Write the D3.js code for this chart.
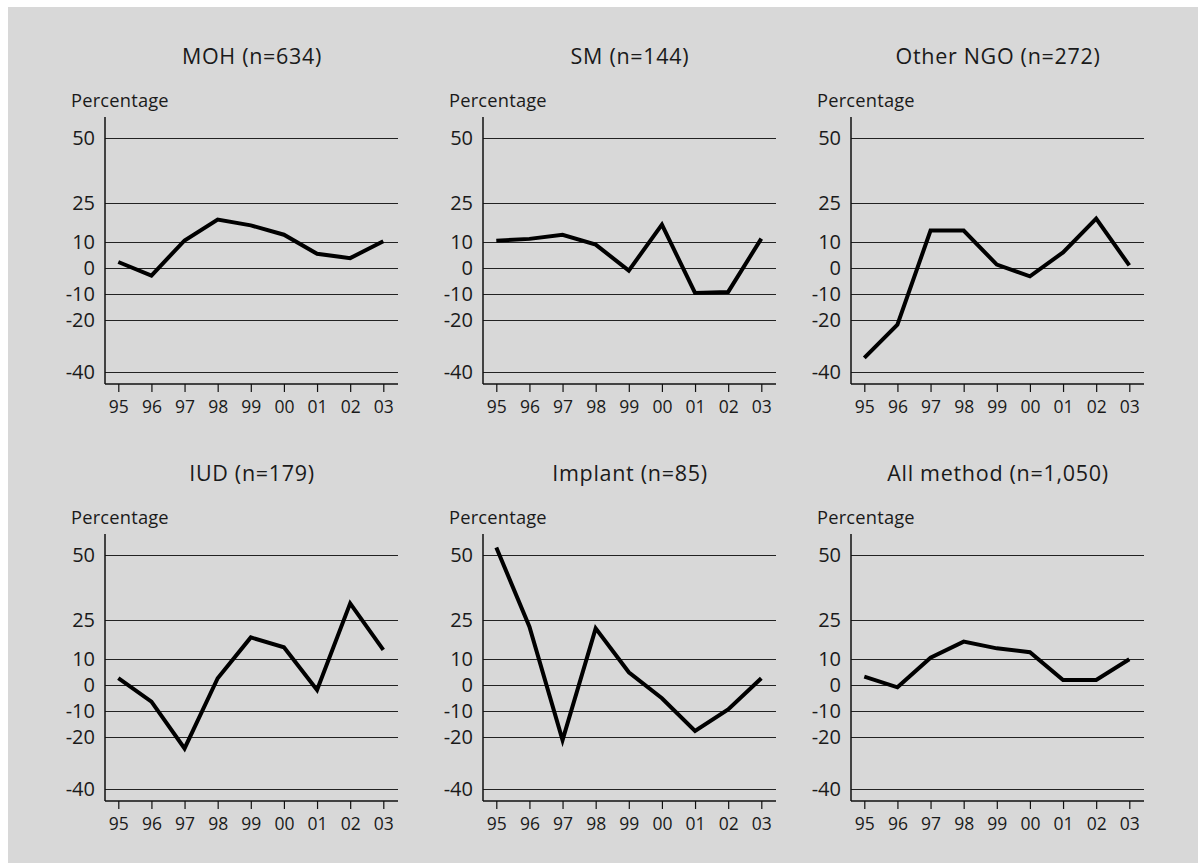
<!DOCTYPE html>
<html>
<head>
<meta charset="utf-8">
<script src="https://cdn.jsdelivr.net/npm/d3@7"></script>
<style>
  html, body { margin: 0; padding: 0; background: #ffffff; }
  svg { display: block; }
  text { font-family: "Open Sans", "Lato", sans-serif; fill: #1a1a1a; }
</style>
</head>
<body>
<svg id="chart" width="1198" height="863"></svg>
<script>
// Years on the x axis
const years = ["95", "96", "97", "98", "99", "00", "01", "02", "03"];

// Y-axis tick values (irregular spacing, linear scale)
const yTicks = [50, 25, 10, 0, -10, -20, -40];

// Panel titles
const titles = ["MOH (n=634)", "SM (n=144)", "Other NGO (n=272)",
                "IUD (n=179)", "Implant (n=85)", "All method (n=1,050)"];

// Annual percentage change series, one per panel
const moh       = [2.3, -2.9, 10.6, 18.6, 16.4, 12.8, 5.5, 3.8, 10.3];
const sm        = [10.5, 11.2, 12.8, 9.0, -1.0, 16.7, -9.6, -9.2, 11.3];
const otherNgo  = [-34.6, -21.8, 14.4, 14.4, 1.3, -3.2, 6.0, 19.0, 1.0];
const iud       = [2.6, -6.4, -24.4, 2.6, 18.3, 14.5, -1.9, 31.4, 13.5];
const implant   = [52.9, 22.4, -21.2, 21.8, 4.9, -5.1, -17.7, -9.4, 2.6];
const allMethod = [3.2, -0.9, 10.5, 16.7, 14.1, 12.6, 1.9, 1.9, 9.9];

const series = [moh, sm, otherNgo, iud, implant, allMethod];

const svg = d3.select("#chart");

// Grey backdrop
svg.append("rect")
  .attr("x", 8).attr("y", 7)
  .attr("width", 1198 - 8).attr("height", 863 - 7)
  .attr("fill", "#d8d8d8");

// Panel geometry
const colX = [105, 483, 851];   // y-axis x position per column
const rowY = [0, 417];           // vertical offset per row
const plotW = 293;
const axisTop = 117, axisBottom = 384;

const y0 = d3.scaleLinear().domain([0, 50]).range([268, 138]);
const yDomain = [y0.invert(axisBottom), y0.invert(axisTop)];

series.forEach((vals, i) => {
  const col = i % 3, row = Math.floor(i / 3);
  const g = svg.append("g")
    .attr("transform", `translate(${colX[col]},${rowY[row]})`);

  const x = d3.scalePoint().domain(years).range([13.3, 278.3]);
  const y = d3.scaleLinear().domain(yDomain).range([axisBottom, axisTop]);

  // Title
  g.append("text")
    .attr("x", 147).attr("y", 64)
    .attr("text-anchor", "middle")
    .attr("font-size", 21.5)
    .attr("letter-spacing", 0.7)
    .text(titles[i]);

  // Axis label
  g.append("text")
    .attr("x", -34).attr("y", 107)
    .attr("font-size", 18.3)
    .attr("letter-spacing", 0.2)
    .text("Percentage");

  // Horizontal gridlines with tick labels
  const yAxis = d3.axisLeft(y)
    .tickValues(yTicks)
    .tickSize(-plotW)
    .tickPadding(10)
    .tickFormat(d => String(d));
  const ya = g.append("g").call(yAxis);
  ya.select(".domain").remove();
  ya.selectAll(".tick line").attr("stroke", "#222").attr("stroke-width", 1.1);
  ya.selectAll(".tick text")
    .attr("font-size", 20)
    .attr("fill", "#1a1a1a")
    .attr("font-family", "'Open Sans', Lato, sans-serif");

  // Vertical axis line
  g.append("line")
    .attr("x1", 0).attr("x2", 0)
    .attr("y1", axisTop).attr("y2", axisBottom)
    .attr("stroke", "#111").attr("stroke-width", 1.5);

  // Bottom axis with year ticks
  const xAxis = d3.axisBottom(x).tickSize(8).tickPadding(9).tickSizeOuter(0);
  const xa = g.append("g").attr("transform", `translate(0,${axisBottom})`).call(xAxis);
  xa.select(".domain")
    .attr("d", `M0,0H${plotW}`)
    .attr("stroke", "#111").attr("stroke-width", 1.5);
  xa.selectAll(".tick line").attr("stroke", "#111").attr("stroke-width", 1.2);
  xa.selectAll(".tick text")
    .attr("font-size", 17.5)
    .attr("fill", "#1a1a1a")
    .attr("font-family", "'Open Sans', Lato, sans-serif");

  // Data line
  const line = d3.line()
    .x((d, j) => x(years[j]))
    .y(d => y(d));
  g.append("path")
    .datum(vals)
    .attr("d", line)
    .attr("fill", "none")
    .attr("stroke", "#000")
    .attr("stroke-width", 4)
    .attr("stroke-linejoin", "miter");
});
</script>
</body>
</html>
